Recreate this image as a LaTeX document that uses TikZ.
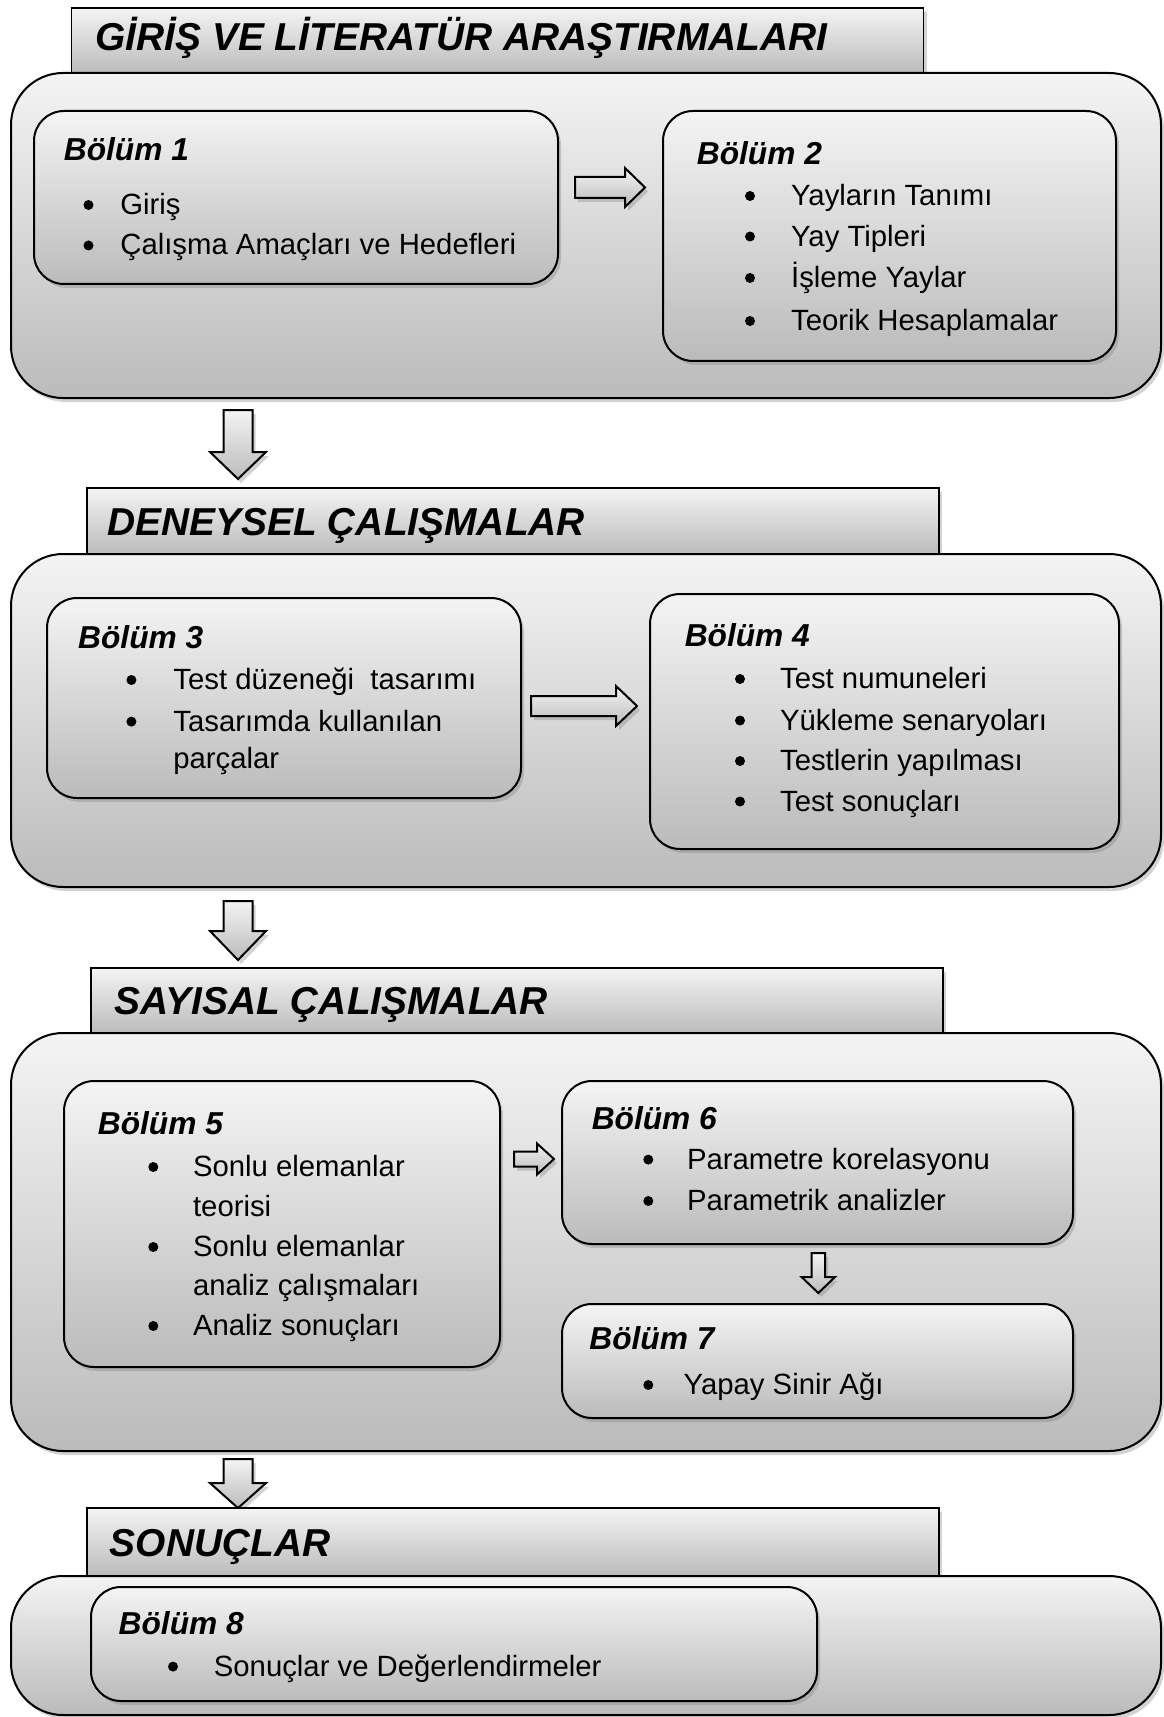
\documentclass[tikz,border=0pt]{standalone}
\usepackage{fontspec}
\setmainfont{Liberation Sans}
\usetikzlibrary{shadows}
\definecolor{gtop}{HTML}{F4F4F4}
\definecolor{gbot}{HTML}{BBBBBB}
% right block arrow: x1, x2, y, shaft half, head half, head length
\newcommand\rblock[7]{%
  \path[blockarrow] (#2,{#4-#5}) coordinate (#1s) -- ({#3-#7},{#4-#5}) -- ({#3-#7},{#4-#6})
    -- (#3,#4) coordinate (#1e) -- ({#3-#7},{#4+#6}) -- ({#3-#7},{#4+#5}) -- (#2,{#4+#5}) -- cycle;}
% down block arrow: x, y1, y2, shaft half, head half, head length
\newcommand\dblock[7]{%
  \path[blockarrow] ({#2-#5},#3) coordinate (#1s) -- ({#2+#5},#3) -- ({#2+#5},{#4-#7}) -- ({#2+#6},{#4-#7})
    -- (#2,#4) coordinate (#1e) -- ({#2-#6},{#4-#7}) -- ({#2-#5},{#4-#7}) -- cycle;}
\begin{document}
\begin{tikzpicture}[x=0.5pt,y=-0.5pt,
  gfill/.style={top color=gtop,bottom color=gbot},
  shd/.style={drop shadow={opacity=0.35,shadow xshift=1.5pt,shadow yshift=-2pt}},
  titlebox/.style={draw,line width=0.8pt,gfill,shd,inner sep=0,minimum width=426pt},
  outerbox/.style={draw,line width=1pt,gfill,shd,rounded corners=26pt,inner sep=0,minimum width=575pt},
  innerbox/.style={draw,line width=1pt,gfill,shd,rounded corners=15pt,inner sep=0},
  ttl/.style={anchor=mid west,inner sep=0,font=\fontsize{19.45}{23}\selectfont\bfseries\itshape},
  hd/.style={anchor=mid west,inner sep=0,font=\fontsize{15.85}{19}\selectfont\bfseries\itshape},
  txt/.style={anchor=mid west,inner sep=0,font=\fontsize{14.65}{18}\selectfont},
  bul/.style={circle,fill,inner sep=0,minimum size=5pt},
  blockarrow/.style={draw,line width=1pt,line join=miter,gfill,shd}]
\useasboundingbox (0,0) rectangle (1163,1717);

% ---------- Section 1
\node[titlebox,minimum height=32.5pt] (t1) at (497.5,40.5) {};
\node[outerbox,minimum height=162.5pt] (o1) at (586,235.5) {};
\node[innerbox,minimum width=262pt,minimum height=86.5pt] (b1) at (296,197.5) {};
\node[innerbox,minimum width=226.5pt,minimum height=125pt] (b2) at (889.5,236) {};
\rblock{a12}{575}{645}{187.5}{10.5}{19.5}{20}
\node[ttl] (t1t) at (95,45) {GİRİŞ VE LİTERATÜR ARAŞTIRMALARI};
\node[hd] (h1) at (63.5,155.5) {Bölüm 1};
\node[bul] (b1p1) at (88.5,205) {}; \node[txt] (b1l1) at (120,209.5) {Giriş};
\node[bul] (b1p2) at (88.5,245.5) {}; \node[txt] (b1l2) at (120,249.5) {Çalışma Amaçları ve Hedefleri};
\node[hd] (h2) at (696.5,159.5) {Bölüm 2};
\node[bul] (b2p1) at (750,196) {}; \node[txt] (b2l1) at (790.7,200.5) {Yayların Tanımı};
\node[bul] (b2p2) at (750,236.5) {}; \node[txt] (b2l2) at (790.7,241) {Yay Tipleri};
\node[bul] (b2p3) at (750,278) {}; \node[txt] (b2l3) at (790.7,282.5) {İşleme Yaylar};
\node[bul] (b2p4) at (750,321) {}; \node[txt] (b2l4) at (790.7,325.5) {Teorik Hesaplamalar};

\dblock{d1}{238}{410}{479}{14.5}{28}{27}

% ---------- Section 2
\node[titlebox,minimum height=33pt] (t2) at (513,521) {};
\node[outerbox,minimum height=166.5pt] (o2) at (586,720.5) {};
\node[innerbox,minimum width=237pt,minimum height=100pt] (b3) at (284,698) {};
\node[innerbox,minimum width=234.5pt,minimum height=127.5pt] (b4) at (884.5,721.5) {};
\rblock{a34}{531}{637}{706}{10}{20}{21}
\node[ttl] (t2t) at (107,530) {DENEYSEL ÇALIŞMALAR};
\node[hd] (h3) at (77.8,643.5) {Bölüm 3};
\node[bul] (b3p1) at (131.4,680) {}; \node[txt] (b3l1) at (173,684.5) {Test düzeneği\ \ tasarımı};
\node[bul] (b3p2) at (131.4,721.6) {}; \node[txt] (b3l2) at (173,726) {Tasarımda kullanılan};
\node[txt] (b3l3) at (173,763.5) {parçalar};
\node[hd] (h4) at (684.4,641.5) {Bölüm 4};
\node[bul] (b4p1) at (740,679) {}; \node[txt] (b4l1) at (779.7,683.5) {Test numuneleri};
\node[bul] (b4p2) at (740,720.5) {}; \node[txt] (b4l2) at (779.7,725) {Yükleme senaryoları};
\node[bul] (b4p3) at (740,761) {}; \node[txt] (b4l3) at (779.7,765.5) {Testlerin yapılması};
\node[bul] (b4p4) at (740,801.5) {}; \node[txt] (b4l4) at (779.7,806) {Test sonuçları};

\dblock{d2}{238}{901}{960}{14.5}{28}{29}

% ---------- Section 3
\node[titlebox,minimum height=32.5pt] (t3) at (517,1000.5) {};
\node[outerbox,minimum height=209pt] (o3) at (586,1242) {};
\node[innerbox,minimum width=218pt,minimum height=143pt] (b5) at (282,1224) {};
\node[innerbox,minimum width=255.5pt,minimum height=81.5pt] (b6) at (817.5,1162.5) {};
\node[innerbox,minimum width=255.5pt,minimum height=57pt] (b7) at (817.5,1361) {};
\rblock{a56}{514}{554}{1159}{7.5}{15.5}{17}
\dblock{a67}{818.3}{1253}{1293}{6.7}{16.7}{16}
\node[ttl] (t3t) at (114,1009) {SAYISAL ÇALIŞMALAR};
\node[hd] (h5) at (97.5,1129) {Bölüm 5};
\node[bul] (b5p1) at (153.3,1167) {}; \node[txt] (b5l1) at (192.7,1171.5) {Sonlu elemanlar};
\node[txt] (b5l2) at (192.7,1211) {teorisi};
\node[bul] (b5p3) at (153.3,1247) {}; \node[txt] (b5l3) at (192.7,1251.5) {Sonlu elemanlar};
\node[txt] (b5l4) at (192.7,1290) {analiz çalışmaları};
\node[bul] (b5p5) at (153.3,1326) {}; \node[txt] (b5l5) at (192.7,1330.5) {Analiz sonuçları};
\node[hd] (h6) at (591.4,1124.5) {Bölüm 6};
\node[bul] (b6p1) at (648.3,1159.6) {}; \node[txt] (b6l1) at (686.6,1164) {Parametre korelasyonu};
\node[bul] (b6p2) at (648.3,1201) {}; \node[txt] (b6l2) at (686.6,1205.5) {Parametrik analizler};
\node[hd] (h7) at (589,1344.5) {Bölüm 7};
\node[bul] (b7p1) at (648.3,1385) {}; \node[txt] (b7l1) at (683.3,1389.5) {Yapay Sinir Ağı};

\dblock{d3}{238}{1459}{1508}{14.5}{28}{25}

% ---------- Section 4
\node[titlebox,minimum height=34pt] (t4) at (513,1542) {};
\node[outerbox,minimum height=69.5pt] (o4) at (586,1645.5) {};
\node[innerbox,minimum width=363pt,minimum height=57pt] (b8) at (454,1644) {};
\node[ttl] (t4t) at (109.5,1551) {SONUÇLAR};
\node[hd] (h8) at (118.3,1629.5) {Bölüm 8};
\node[bul] (b8p1) at (173,1666.6) {}; \node[txt] (b8l1) at (213.5,1671) {Sonuçlar ve Değerlendirmeler};
\end{tikzpicture}
\end{document}
